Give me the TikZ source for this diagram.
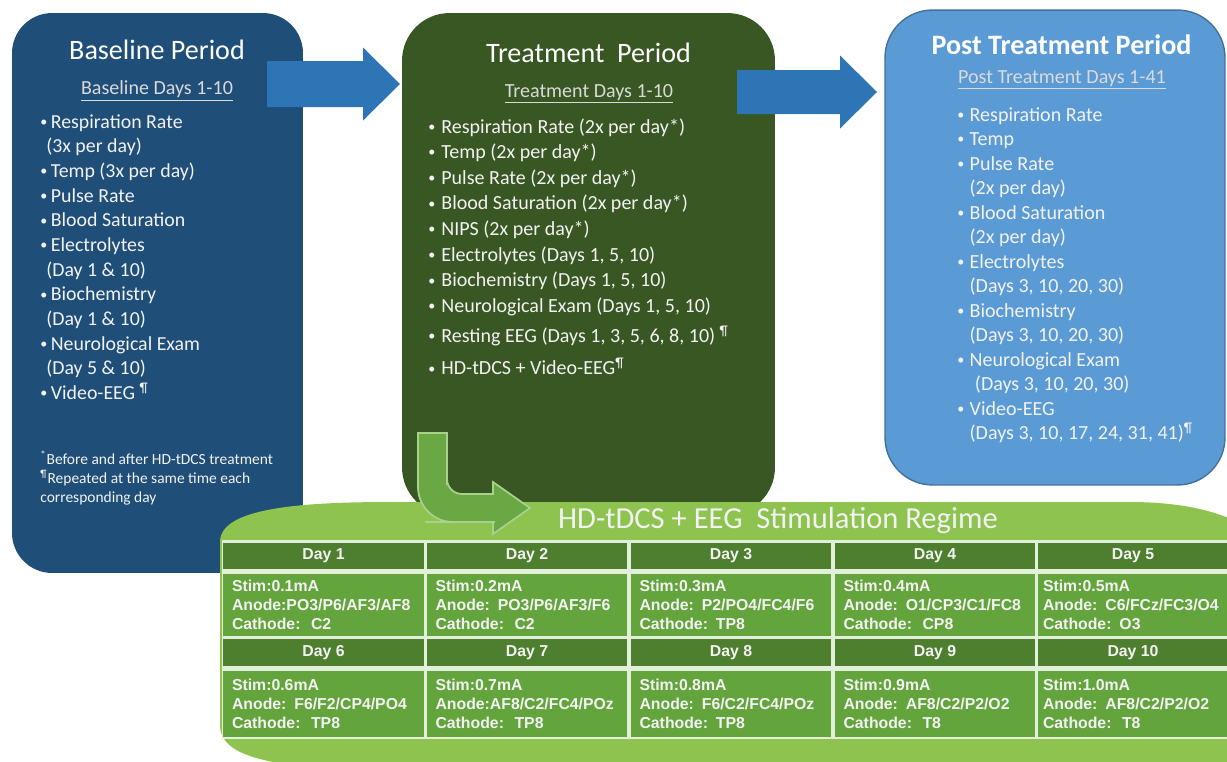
\documentclass[tikz,border=0pt]{standalone}
\usepackage{fontspec}
\setmainfont{Carlito}
\newfontfamily\cellfont{Liberation Sans}
\usetikzlibrary{arrows.meta}
\definecolor{baseblue}{HTML}{1F4E79}
\definecolor{treatgreen}{HTML}{385723}
\definecolor{postblue}{HTML}{5B9BD5}
\definecolor{postedge}{HTML}{41719C}
\definecolor{arrowblue}{HTML}{2E75B6}
\definecolor{lime}{HTML}{8DC34E}
\definecolor{bendgreen}{HTML}{6AA843}
\definecolor{bendedge}{HTML}{A9D18E}
\definecolor{headgreen}{HTML}{4E7F2F}
\definecolor{cellgreen}{HTML}{64A43C}
\definecolor{gridline}{HTML}{E2EFD9}
\definecolor{paletext}{HTML}{F2F2F2}
\definecolor{subtext}{HTML}{DADADA}
\newcommand{\itembullet}[1]{\makebox[#1][l]{\fontsize{8}{8}\selectfont\raisebox{1pt}{•}}}
\tikzset{panel/.style={inner sep=0pt},
  paneltitle/.style={text=white,font=\fontsize{16}{19}\selectfont},
  panelsub/.style={text=subtext,font=\fontsize{11.4}{14}\selectfont},
  itemlist/.style={text=paletext,align=left,inner sep=0pt,anchor=north west},
  blockarrow/.style={fill=arrowblue},
  dayhead/.style={fill=headgreen,text=paletext,minimum width=4.02cm,minimum height=0.53cm,inner sep=0pt,font=\cellfont\bfseries\fontsize{9}{11}\selectfont},
  daycell/.style={fill=cellgreen,text=paletext,text width=3.66cm,inner xsep=0.18cm,inner ysep=0pt,align=left,font=\cellfont\bfseries\fontsize{9}{11}\selectfont}}

\begin{document}
\begin{tikzpicture}[x=0.02cm,y=-0.02cm]
\useasboundingbox (0,0) rectangle (1227,761);
% the three periods
\node[panel,fill=baseblue,rounded corners=0.8cm,minimum width=5.82cm,minimum height=11.2cm] (base) at (157.5,293) {};
\node[panel,fill=treatgreen,rounded corners=0.95cm,minimum width=7.46cm,minimum height=10.04cm] (treat) at (588.5,264) {};
\node[panel,fill=postblue,draw=postedge,line width=0.8pt,rounded corners=0.95cm,minimum width=6.8cm,minimum height=9.5cm] (post) at (1055,247.5) {};
\coordinate (a1) at (267,84);
\coordinate (t1) at (400,84);
\fill[blockarrow] (a1) ++(0,-23) -- ++(96,0) -- ++(0,-13.5) -- (t1) -- ++(-37,36.5) -- ++(0,-13.5) -- ++(-96,0) -- cycle;
\coordinate (a2) at (737,92);
\coordinate (t2) at (877,92);
\fill[blockarrow] (a2) ++(0,-22) -- ++(103,0) -- ++(0,-14.5) -- (t2) -- ++(-37,36.5) -- ++(0,-14.5) -- ++(-103,0) -- cycle;
% stimulation regime
\fill[lime] (220,542) .. controls (220,510) and (290,502) .. (390,502) -- (1130,502) .. controls (1190,502) and (1240,515) .. (1260,540) -- (1260,768) -- (320,768) .. controls (250,762) and (220,750) .. (220,725) -- cycle;
\fill[gridline] (222,540) rectangle (1229,739);
\node[dayhead] (day1) at (323.5,556) {Day 1};
\node[dayhead] (day2) at (527,556) {Day 2};
\node[dayhead] (day3) at (731,556) {Day 3};
\node[dayhead] (day4) at (935,556) {Day 4};
\node[dayhead,minimum width=3.8cm] (day5) at (1133,556) {Day 5};
\node[daycell,minimum height=1.24cm] (stim1) at (323.5,605) {Stim:0.1mA\\Anode:PO3/P6/AF3/AF8\\Cathode:\ \ C2};
\node[daycell,minimum height=1.24cm] (stim2) at (527,605) {Stim:0.2mA\\Anode: PO3/P6/AF3/F6\\Cathode:\ \ C2};
\node[daycell,minimum height=1.24cm] (stim3) at (731,605) {Stim:0.3mA\\Anode: P2/PO4/FC4/F6\\Cathode: TP8};
\node[daycell,minimum height=1.24cm] (stim4) at (935,605) {Stim:0.4mA\\Anode: O1/CP3/C1/FC8\\Cathode:\ \ CP8};
\node[daycell,minimum height=1.24cm,text width=3.6cm,inner xsep=0.1cm] (stim5) at (1133,605) {Stim:0.5mA\\Anode: C6/FCz/FC3/O4\\Cathode: O3};
\node[dayhead,minimum height=0.54cm] (day6) at (323.5,652.5) {Day 6};
\node[dayhead,minimum height=0.54cm] (day7) at (527,652.5) {Day 7};
\node[dayhead,minimum height=0.54cm] (day8) at (731,652.5) {Day 8};
\node[dayhead,minimum height=0.54cm] (day9) at (935,652.5) {Day 9};
\node[dayhead,minimum height=0.54cm,minimum width=3.8cm] (day10) at (1133,652.5) {Day 10};
\node[daycell,minimum height=1.32cm] (stim6) at (323.5,704) {Stim:0.6mA\\Anode: F6/F2/CP4/PO4\\Cathode:\ \ TP8};
\node[daycell,minimum height=1.32cm] (stim7) at (527,704) {Stim:0.7mA\\Anode:AF8/C2/FC4/POz\\Cathode:\ \ TP8};
\node[daycell,minimum height=1.32cm] (stim8) at (731,704) {Stim:0.8mA\\Anode: F6/C2/FC4/POz\\Cathode: TP8};
\node[daycell,minimum height=1.32cm] (stim9) at (935,704) {Stim:0.9mA\\Anode: AF8/C2/P2/O2\\Cathode:\ \ T8};
\node[daycell,minimum height=1.32cm,text width=3.6cm,inner xsep=0.1cm] (stim10) at (1133,704) {Stim:1.0mA\\Anode: AF8/C2/P2/O2\\Cathode:\ \ T8};
\node[text=paletext,font=\fontsize{17.4}{20}\selectfont] (regime) at (778,521) {HD-tDCS + EEG\ \ Stimulation Regime};
\fill[bendgreen,draw=bendedge,line width=1pt] (418,433) -- (418,470) [rounded corners=0.7cm] -- (418,522) -- (460,522) [sharp corners] -- (493,522) -- (493,534) -- (530,508) -- (493,482) -- (493,494) -- (470,494) [rounded corners=0.3cm] -- (447,494) -- (447,470) [sharp corners] -- (447,433) -- cycle;
% texts of the periods
\node[paneltitle] (basetitle) at (157,50) {Baseline Period};
\node[panelsub] (basesub) at (157,91) {\underline{Baseline Days 1-10}};
\node[itemlist,font=\fontsize{11.3}{14.05}\selectfont] (baselist) at (40,114) {\itembullet{6pt}Respiration Rate\\\hspace*{3.4pt}(3x per day)\\\itembullet{6pt}Temp (3x per day)\\\itembullet{6pt}Pulse Rate\\\itembullet{6pt}Blood Saturation\\\itembullet{6pt}Electrolytes\\\hspace*{3.4pt}(Day 1 \& 10)\\\itembullet{6pt}Biochemistry\\\hspace*{3.4pt}(Day 1 \& 10)\\\itembullet{6pt}Neurological Exam\\\hspace*{3.4pt}(Day 5 \& 10)\\\itembullet{6pt}Video-EEG \textsuperscript{¶}};
\node[itemlist,font=\fontsize{8.8}{10.8}\selectfont] (basenote) at (40,450) {\textsuperscript{*}Before and after HD-tDCS treatment\\\textsuperscript{¶}Repeated at the same time each\\corresponding day};
\node[paneltitle] (treattitle) at (588.5,53) {Treatment\ \ Period};
\node[panelsub] (treatsub) at (589,94) {\underline{Treatment Days 1-10}};
\node[itemlist,font=\fontsize{11.4}{14.6}\selectfont] (treatlist) at (428,118) {\itembullet{7.4pt}Respiration Rate (2x per day*)\\\itembullet{7.4pt}Temp (2x per day*)\\\itembullet{7.4pt}Pulse Rate (2x per day*)\\\itembullet{7.4pt}Blood Saturation (2x per day*)\\\itembullet{7.4pt}NIPS (2x per day*)\\\itembullet{7.4pt}Electrolytes (Days 1, 5, 10)\\\itembullet{7.4pt}Biochemistry (Days 1, 5, 10)\\\itembullet{7.4pt}Neurological Exam (Days 1, 5, 10)\\[2.3pt]\itembullet{7.4pt}Resting EEG (Days 1, 3, 5, 6, 8, 10) \textsuperscript{¶}\\[4pt]\itembullet{7.4pt}HD-tDCS + Video-EEG\textsuperscript{¶}};
\node[paneltitle,font=\bfseries\fontsize{16}{19}\selectfont] (posttitle) at (1061.5,45) {Post Treatment Period};
\node[panelsub] (postsub) at (1062,80) {\underline{Post Treatment Days 1-41}};
\node[itemlist,font=\fontsize{11.4}{13.95}\selectfont] (postlist) at (957,107) {\itembullet{7pt}Respiration Rate\\\itembullet{7pt}Temp\\\itembullet{7pt}Pulse Rate\\\hspace*{7pt}(2x per day)\\\itembullet{7pt}Blood Saturation\\\hspace*{7pt}(2x per day)\\\itembullet{7pt}Electrolytes\\\hspace*{7pt}(Days 3, 10, 20, 30)\\\itembullet{7pt}Biochemistry\\\hspace*{7pt}(Days 3, 10, 20, 30)\\\itembullet{7pt}Neurological Exam\\\hspace*{10pt}(Days 3, 10, 20, 30)\\\itembullet{7pt}Video-EEG\\\hspace*{7pt}(Days 3, 10, 17, 24, 31, 41)\textsuperscript{¶}};
\end{tikzpicture}
\end{document}
